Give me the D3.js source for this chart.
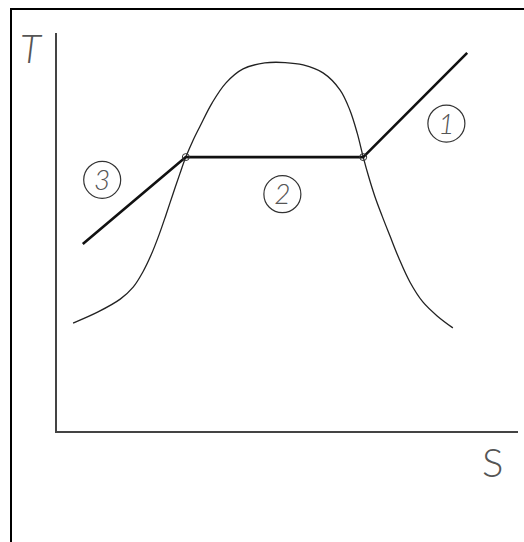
<html>
<head>
<style>
  body{margin:0;background:#fff}
  svg text{font-family:Lato,"DejaVu Sans",sans-serif;fill:#555}
</style>
</head>
<body>
<div id="ts"></div>
<script src="https://d3js.org/d3.v7.min.js"></script>
<script>
// saturation dome, entropy S vs temperature T (arbitrary 0..100 units)
var domeS = [3.7, 9.1, 13.9, 16.7, 18.8, 20.6, 22.3, 23.8, 25.3, 26.8, 28.1, 29.7, 31.2, 33.8, 36.8, 40.5, 45.2, 49.6,
             53.5, 57.8, 61.5, 63.6, 65.2, 66.5, 67.7, 69.0, 70.6, 72.3, 74.2, 76.6, 79.4, 82.5, 85.9];
var domeT = [27.3, 30.1, 33.3, 36.3, 40.1, 44.4, 49.4, 54.4, 59.6, 64.7, 68.9, 73.2, 76.7, 82.5, 87.5, 91.0, 92.5, 92.6,
             92.0, 90.0, 85.7, 80.7, 74.9, 68.9, 63.9, 59.1, 54.1, 49.1, 43.6, 37.6, 32.6, 29.1, 26.1];

// isobar: liquid (3), two-phase (2), vapour (1)
var isoS = [5.8, 28.1, 66.5, 89.0];
var isoT = [47.1, 68.9, 68.9, 95.0];

var regionNames = ['1', '2', '3'];
var regionS = [84.5, 49.0, 10.0];
var regionT = [77.3, 59.6, 63.2];

var axisNames = ['T', 'S'];

(function () {
  var
    width  = 524,
    height = 542,
    xScale = d3.scaleLinear().domain([0, 100]).range([56, 518]),
    yScale = d3.scaleLinear().domain([0, 100]).range([432, 33]),
    svg    = d3.select('#ts').append('svg')
               .attr('width', width)
               .attr('height', height),
    line   = d3.line()
               .x(function (d) { return xScale(d[0]); })
               .y(function (d) { return yScale(d[1]); });

  // frame (only left and top edges are visible)
  svg.append('path')
    .attr('d', 'M11,' + height + 'V9H' + width)
    .style('fill', 'none')
    .style('stroke', '#000')
    .style('stroke-width', '2px');

  // axes
  svg.append('path')
    .attr('d', line([[0, 100], [0, 0], [100, 0]]))
    .style('fill', 'none')
    .style('stroke', '#444')
    .style('stroke-width', '2px');

  // dome
  var dome = domeS.map(function (s, i) { return [s, domeT[i]]; });
  svg.append('path')
    .attr('d', line.curve(d3.curveCatmullRom.alpha(0.5))(dome))
    .style('fill', 'none')
    .style('stroke', '#222')
    .style('stroke-width', '1.3px');

  // isobar
  var iso = isoS.map(function (s, i) { return [s, isoT[i]]; });
  svg.append('path')
    .attr('d', line.curve(d3.curveLinear)(iso))
    .style('fill', 'none')
    .style('stroke', '#111')
    .style('stroke-width', '2.6px')
    .style('stroke-linejoin', 'round');

  // saturation points
  svg.selectAll('circle.pt')
    .data([iso[1], iso[2]])
    .enter().append('circle')
    .attr('class', 'pt')
    .attr('cx', function (d) { return xScale(d[0]); })
    .attr('cy', function (d) { return yScale(d[1]); })
    .attr('r', 3.5)
    .style('fill', 'none')
    .style('stroke', '#333')
    .style('stroke-width', '1px');

  // region markers
  var reg = svg.selectAll('g.reg')
    .data(regionNames)
    .enter().append('g')
    .attr('class', 'reg')
    .attr('transform', function (d, i) {
      return 'translate(' + xScale(regionS[i]) + ',' + yScale(regionT[i]) + ')';
    });

  reg.append('circle')
    .attr('r', 18.5)
    .style('fill', 'none')
    .style('stroke', '#333')
    .style('stroke-width', '1.2px');

  reg.append('text')
    .text(function (d) { return d; })
    .attr('text-anchor', 'middle')
    .attr('y', 10)
    .style('font-size', '28px')
    .style('font-style', 'italic')
    .style('font-weight', 300);

  // axis names
  svg.append('text')
    .text(axisNames[0])
    .attr('x', 20)
    .attr('y', 63)
    .style('font-size', '39px')
    .style('font-style', 'italic')
    .style('font-weight', 300);

  svg.append('text')
    .text(axisNames[1])
    .attr('x', 482)
    .attr('y', 477)
    .style('font-size', '40px')
    .style('font-weight', 300);
})();
</script>
</body>
</html>
